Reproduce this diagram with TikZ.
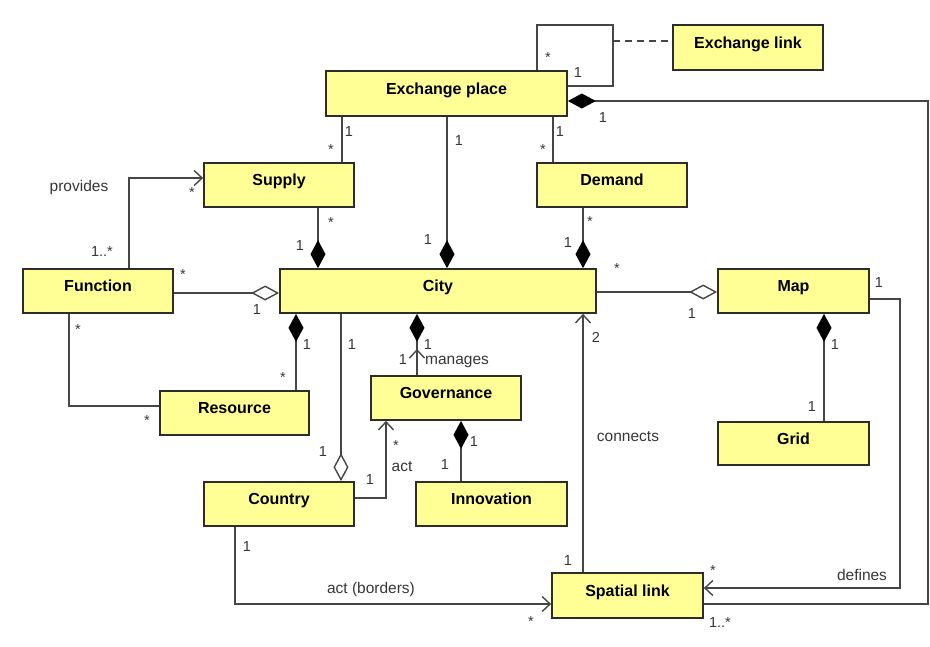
\documentclass[tikz,border=0pt]{standalone}
\usepackage{fontspec}
\setmainfont{Liberation Sans}
\usetikzlibrary{arrows.meta}
\definecolor{boxfill}{RGB}{255,255,150}
\definecolor{boxline}{RGB}{45,45,45}
\definecolor{connc}{RGB}{70,70,70}
\definecolor{lbl}{RGB}{55,55,55}
\begin{document}
\begin{tikzpicture}[x=1pt,y=-1pt,
  cls/.style={draw=boxline, line width=1.7pt, fill=boxfill, font=\fontsize{16}{18}\selectfont\bfseries, text height=12pt, text depth=10.5pt, inner sep=0pt, minimum height=44pt},
  conn/.style={draw=connc, line width=1.4pt},
  lab/.style={font=\fontsize{15.5}{17}\selectfont, text=lbl, inner sep=0pt},
  mul/.style={font=\fontsize{14.5}{16}\selectfont, text=lbl, inner sep=0pt},
  ast/.style={mul, yshift=-3pt},
  comp/.style={{Diamond[length=28pt,width=15pt,color=black]}-},
  agg/.style={{Diamond[open,fill=white,length=28pt,width=15pt]}-},
  nav/.style={-{Straight Barb[length=8pt,width=15pt]}},
]
\fill[white] (0,0) rectangle (930,646);
\path[use as bounding box] (0,0) rectangle (930,646);

% classes
\node[cls, minimum width=241pt, minimum height=45pt] (xp) at (446.5,93.5) {Exchange place};
\node[cls, minimum width=150pt, minimum height=45pt] (xl) at (748,47.5) {Exchange link};
\node[cls, minimum width=150pt] (sup) at (279,185) {Supply};
\node[cls, minimum width=150pt] (dem) at (612,185) {Demand};
\node[cls, minimum width=316pt] (city) at (438,291) {City};
\node[cls, minimum width=150pt] (fun) at (98,291) {Function};
\node[cls, minimum width=151pt] (map) at (793.5,291) {Map};
\node[cls, minimum width=149pt] (res) at (234.5,413) {Resource};
\node[cls, minimum width=150pt] (gov) at (446,398) {Governance};
\node[cls, minimum width=150pt] (cty) at (279,504) {Country};
\node[cls, minimum width=151pt] (inn) at (491.5,504) {Innovation};
\node[cls, minimum width=151pt, minimum height=43pt] (grid) at (793.5,443.5) {Grid};
\node[cls, minimum width=151pt, minimum height=45pt] (sl) at (627.5,595.5) {Spatial link};

% connectors
\draw[conn] (537,0 |- xp.north) -- (537,25) -- (613,25) -- (613,86) -- (xp.east |- 0,86);
\coordinate (loopR) at (613,41);
\draw[conn, dash pattern=on 7pt off 5pt] (loopR) -- (xl.west |- loopR);
\draw[conn] (342,0 |- xp.south) -- (342,0 |- sup.north);
\draw[conn, comp] (447,0 |- city.north) -- (447,0 |- xp.south);
\draw[conn] (553,0 |- xp.south) -- (553,0 |- dem.north);
\draw[conn, comp] (318,0 |- city.north) -- (318,0 |- sup.south);
\draw[conn, comp] (583,0 |- city.north) -- (583,0 |- dem.south);
\draw[conn, agg] (city.west |- 0,293) -- (fun.east |- 0,293);
\draw[conn, nav] (129,0 |- fun.north) |- (sup.west |- 0,178);
\draw[conn, agg] (map.west |- 0,292) -- (city.east |- 0,292);
\draw[conn, nav] (map.east |- 0,299) -- (900,299) -- (900,588) -- (sl.east |- 0,588);
\draw[conn, comp] (824,0 |- map.south) -- (824,0 |- grid.north);
\draw[conn, nav] (583,0 |- sl.north) -- (583,0 |- city.south);
\draw[conn, comp] (296,0 |- city.south) -- (296,0 |- res.north);
\draw[conn] (69,0 |- fun.south) |- (res.west |- 0,406);
\draw[conn, agg] (341,0 |- cty.north) -- (341,0 |- city.south);
\draw[conn, comp] (417,0 |- city.south) -- (417,0 |- gov.north);
\coordinate (mtip) at (417,349);
\draw[conn, nav] (417,0 |- gov.north) -- (mtip);
\draw[conn, nav] (cty.east |- 0,498) -| (386,0 |- gov.south);
\draw[conn, comp] (461,0 |- gov.south) -- (461,0 |- inn.north);
\draw[conn, nav] (235,0 |- cty.south) |- (sl.west |- 0,604);
\draw[conn, comp] (xp.east |- 0,101) -- (928,101) -- (928,604) -- (sl.east |- 0,604);

% labels
\node[ast] (l1) at (548,55) {*};
\node[mul] (l2) at (578,73) {1};
\node[mul] (l3) at (603,118) {1};
\node[mul] (l4) at (349,132) {1};
\node[ast] (l5) at (331,147) {*};
\node[mul] (l6) at (459,141) {1};
\node[mul] (l7) at (560,132) {1};
\node[ast] (l8) at (543,147) {*};
\node[lab] (l9) at (79,187) {provides};
\node[ast] (l10) at (192,190) {*};
\node[mul] (l11) at (102,252) {1..*};
\node[ast] (l12) at (183,272) {*};
\node[mul] (l13) at (257,310) {1};
\node[mul] (l14) at (300,246) {1};
\node[ast] (l15) at (331,220) {*};
\node[mul] (l16) at (428,240) {1};
\node[ast] (l17) at (590,219) {*};
\node[mul] (l18) at (568,243) {1};
\node[ast] (l19) at (617,266) {*};
\node[mul] (l20) at (879,283) {1};
\node[mul] (l21) at (692,314) {1};
\node[ast] (l22) at (78,327) {*};
\node[mul] (l23) at (307,345) {1};
\node[ast] (l24) at (283,375) {*};
\node[ast] (l25) at (147,418) {*};
\node[mul] (l26) at (323,452) {1};
\node[mul] (l27) at (352,345) {1};
\node[mul] (l28) at (428,345) {1};
\node[mul] (l29) at (403,360) {1};
\node[lab] (l30) at (457,362) {manages};
\node[mul] (l31) at (596,337) {2};
\node[ast] (l32) at (396,443) {*};
\node[lab] (l33) at (402,467) {act};
\node[mul] (l34) at (370,480) {1};
\node[mul] (l35) at (474,442) {1};
\node[mul] (l36) at (445,465) {1};
\node[mul] (l37) at (835,345) {1};
\node[mul] (l38) at (812,407) {1};
\node[lab] (l39) at (628,437) {connects};
\node[mul] (l40) at (568,561) {1};
\node[ast] (l41) at (713,568) {*};
\node[lab] (l42) at (862,575) {defines};
\node[mul] (l43) at (720,623) {1..*};
\node[mul] (l44) at (247,547) {1};
\node[lab] (l45) at (371,589) {act (borders)};
\node[ast] (l46) at (531,619) {*};
\end{tikzpicture}
\end{document}
